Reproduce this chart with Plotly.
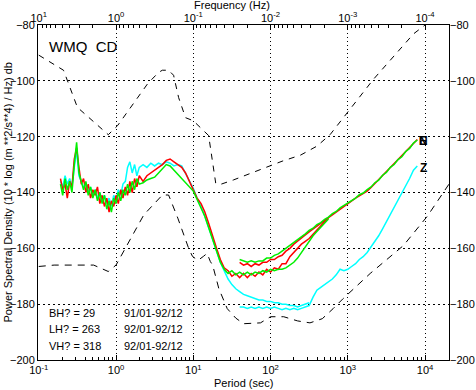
import plotly.graph_objects as go

# ---------------- data ----------------
# BH band periods (s)
period_bh = [0.191, 0.204, 0.219, 0.234, 0.251, 0.269, 0.288, 0.309, 0.331, 0.355,
             0.380, 0.407, 0.437, 0.468, 0.501, 0.537, 0.575, 0.617, 0.661, 0.708,
             0.759, 0.813, 0.871, 0.933, 1.00, 1.07, 1.15, 1.23, 1.32, 1.41,
             1.51, 1.62, 1.74, 1.86, 2.00,
             2.24, 2.51, 2.82, 3.16, 3.55, 3.98, 4.47, 5.01, 5.62, 6.31,
             7.08, 7.94, 8.91, 10.0, 11.2, 12.6, 14.1, 15.8, 17.8, 20.0,
             22.4, 25.1, 28.2, 31.6, 35.5, 39.8, 44.7, 50.1, 56.2, 63.1,
             70.8, 79.4, 89.1, 100, 112, 126, 141, 158, 178, 200,
             224, 251, 282, 316, 355, 398, 447, 501, 562]

red_bh = [-135, -139, -137, -142, -136, -138, -128, -124, -131, -137,
          -135, -140, -137, -142, -139, -141, -138, -144, -141, -145,
          -142, -147, -143, -145, -141, -144, -139, -142, -138, -141,
          -136, -140, -135, -138, -134,
          -136, -134, -133, -132, -131, -130, -128.5, -128, -129, -130,
          -131, -133, -136, -139.5, -142, -144, -147, -151, -156, -160,
          -164, -167, -168, -170, -169, -170.5, -169, -170.5, -169, -170,
          -168.5, -169.5, -167.5, -168.5, -167, -167.5, -165.5, -165.5, -163, -161.5,
          -160, -158.5, -157.5, -156.5, -155, -153.5, -152, -150.5, -149]

green_bh = [-137, -141, -135, -139, -136, -140, -130, -122, -133, -136,
            -139, -136, -141, -138, -142, -139, -143, -140, -144, -141,
            -146, -143, -147, -142, -144, -140, -143, -139, -141, -137,
            -140, -136, -139, -135, -137,
            -136.5, -135.5, -135, -134.5, -133, -131.5, -130, -130.5, -132, -133.5,
            -135, -136.5, -138, -139.5, -142.5, -145.5, -148.5, -152.5, -157, -161.5,
            -165, -167.5, -169, -168, -169.5, -168.5, -169.5, -168.5, -169.5, -168.5,
            -169, -168, -168.5, -167.5, -168, -167.5, -167.5, -167, -166, -165,
            -163.5, -161.5, -159.5, -157.5, -155.5, -154, -152.5, -151, -149.5]

cyan_bh = [-136, -138, -134, -137, -135, -138, -131, -125, -134, -136,
           -138, -137, -140, -138, -141, -139, -142, -140, -143, -141,
           -144, -142, -145, -141, -143, -139, -141, -137, -136, -131,
           -129, -133, -130, -134, -131,
           -130, -131, -129.5, -130.5, -129.5, -130, -129, -129.5, -130.5, -130,
           -130.5, -133, -135.5, -138.5, -142, -145, -148.5, -152.5, -157, -161.5,
           -165, -168, -171, -173, -174.5, -175.5, -176.5, -177, -177.5, -178,
           -178.5, -178.5, -179, -179, -179.5, -179.5, -180, -180, -180.5, -180.5,
           -181, -180.5, -180, -179.5]

# LH band periods (s)
period_lh = [39.8, 44.7, 50.1, 56.2, 63.1, 70.8, 79.4, 89.1, 100, 112,
             126, 141, 158, 178, 200, 224, 251, 282, 316, 355,
             398, 447, 501, 562, 631, 708, 794, 891, 1000, 1120,
             1260, 1410, 1580, 1780, 2000, 2240, 2510, 2820, 3160, 3550,
             3980, 4470, 5010, 5620, 6310, 7080, 7940]

red_lh = [-165, -166, -165.5, -166.5, -165.5, -166, -165, -165, -164, -164,
          -163, -162.5, -161, -160, -158.5, -157.5, -156.3, -155.2, -154.1, -153,
          -152, -151, -150, -149, -148, -147, -146, -145, -143.8, -143,
          -142, -141.2, -140.4, -139.5, -138.2, -136.8, -135.4, -134, -132.6, -131.2,
          -129.8, -128.4, -127, -125.5, -124, -122.5, -121]

green_lh = [-164, -164.5, -165, -164.5, -165, -164.5, -164.5, -163.5, -163.5, -162.5,
            -162, -161, -160, -159, -158, -157, -156, -154.8, -153.6, -152.8,
            -151.5, -150.8, -149.6, -148.8, -147.6, -146.8, -145.5, -144.6, -143.5, -142.6,
            -142, -140.8, -140.2, -139, -138, -136.5, -135.6, -133.8, -132.8, -131,
            -130, -128.2, -127.2, -125.3, -124.2, -122.3, -121.2]

cyan_lh = [-181, -181, -181.5, -181, -181.5, -181, -181.5, -181, -181.5, -181,
           -181.5, -182, -181.5, -182, -181.5, -182, -181.5, -181, -180.5, -177.5,
           -175, -174, -173, -172, -171, -169.5, -167.5, -168, -167.5, -166.5,
           -165.5, -164, -163, -161.5, -159.5, -157.5, -155.5, -153, -150.5, -148,
           -145.5, -143, -140.5, -138, -135, -132, -130.5]

# Station noise envelope (dashed)
period_high = [0.1, 0.209, 0.316, 0.447, 0.631, 0.794, 1.05, 2.57, 3.55, 3.98,
               4.79, 5.56, 6.46, 7.94, 10.0, 12.3, 15.8, 19.5, 21.4, 33.1,
               69.2, 141, 245, 398, 589, 977, 2140, 7080, 10000]
db_high = [-90.8, -96.2, -109.5, -113.2, -116.8, -119.3, -116, -101, -97, -96.2,
           -96.2, -98, -106, -113.2, -114.3, -116.8, -119.6, -136.6, -137.3, -135.5,
           -132, -128.8, -126.6, -123.4, -119.3, -111.4, -99.5, -83.2, -80]

period_low = [0.1, 0.158, 0.513, 0.794, 1.0, 1.55, 2.29, 3.98, 4.79, 6.31,
              8.71, 9.77, 11.5, 13.5, 15.1, 16.6, 17.8, 21.4, 27.5, 35.5,
              44.7, 74.1, 100, 148, 224, 324, 468, 646, 871, 1950,
              5250, 10700, 20400]
db_low = [-166.5, -166, -166, -168.3, -166, -156.4, -148, -140.9, -140.9, -149.2,
          -160, -162.9, -164.3, -162.9, -161.8, -164.7, -166, -174.4, -181.6, -185,
          -187, -186.7, -184.5, -184.5, -186, -186.7, -185.2, -181.6, -178, -169,
          -159, -148.5, -137]

x_tick_vals = [0.1, 1, 10, 100, 1000, 10000]
period_tick_text = ["10<sup>-1</sup>", "10<sup>0</sup>", "10<sup>1</sup>",
                    "10<sup>2</sup>", "10<sup>3</sup>", "10<sup>4</sup>"]
freq_tick_text = ["10<sup>1</sup>", "10<sup>0</sup>", "10<sup>-1</sup>",
                  "10<sup>-2</sup>", "10<sup>-3</sup>", "10<sup>-4</sup>"]
y_tick_vals = [-200, -180, -160, -140, -120, -100, -80]

station_label = "WMQ  CD"
band_labels = ["BH? = 29", "LH? = 263", "VH? = 318"]
date_labels = ["91/01-92/12", "92/01-92/12", "92/01-92/12"]

# ---------------- figure ----------------
FONT = "Liberation Sans, Arial, Helvetica, sans-serif"
RED, GREEN, CYAN = "#ff0000", "#00f000", "#00ffff"
xr = [-1.01, 4.31]
yr = [-200, -80]

fig = go.Figure()

fig.add_trace(go.Scatter(x=period_high, y=db_high, mode="lines",
                         line=dict(color="black", width=1, dash="6px,6px")))
fig.add_trace(go.Scatter(x=period_low, y=db_low, mode="lines",
                         line=dict(color="black", width=1, dash="7px,6px")))

fig.add_trace(go.Scatter(x=period_bh[:len(cyan_bh)], y=cyan_bh, mode="lines",
                         line=dict(color=CYAN, width=1.5)))
fig.add_trace(go.Scatter(x=period_lh, y=cyan_lh, mode="lines",
                         line=dict(color=CYAN, width=1.5)))
fig.add_trace(go.Scatter(x=period_bh, y=red_bh, mode="lines",
                         line=dict(color=RED, width=1.5)))
fig.add_trace(go.Scatter(x=period_lh, y=red_lh, mode="lines",
                         line=dict(color=RED, width=1.5)))
fig.add_trace(go.Scatter(x=period_bh, y=green_bh, mode="lines",
                         line=dict(color=GREEN, width=1.5)))
fig.add_trace(go.Scatter(x=period_lh, y=green_lh, mode="lines",
                         line=dict(color=GREEN, width=1.5)))

# invisible trace to activate the secondary (top / right) axes
fig.add_trace(go.Scatter(x=[1], y=[-100], xaxis="x2", yaxis="y2", mode="markers",
                         marker=dict(opacity=0), hoverinfo="skip"))

minor_period = [k * 10 ** n for n in range(-1, 5) for k in range(2, 10) if k * 10 ** n < 20400]
minor_freq = [1.0 / (k * 10.0 ** n) for n in range(-4, 2) for k in range(2, 10)
              if 0.1 < 1.0 / (k * 10.0 ** n) < 20400]

axis_font = dict(family=FONT, size=11, color="black")

fig.update_layout(
    template="none",
    width=476, height=390,
    margin=dict(l=38, r=27, t=25, b=30, autoexpand=False),
    paper_bgcolor="white", plot_bgcolor="white",
    showlegend=False,
    font=axis_font,
    xaxis=dict(type="log", range=xr, tickmode="array", tickvals=x_tick_vals,
               ticktext=period_tick_text, ticks="inside", ticklen=5, tickcolor="black",
               showline=True, linecolor="black", linewidth=1, mirror=True,
               showgrid=True, gridcolor="black", gridwidth=1, griddash="1px,3px",
               zeroline=False, tickfont=axis_font, automargin=False,
               minor=dict(tickmode="array", tickvals=minor_period, ticks="inside",
                          ticklen=3, tickcolor="black", showgrid=False)),
    xaxis2=dict(type="log", range=xr, overlaying="x", side="top", anchor="y",
                tickmode="array", tickvals=x_tick_vals, ticktext=freq_tick_text,
                ticks="inside", ticklen=5, tickcolor="black", showline=False,
                showgrid=False, zeroline=False, tickfont=axis_font, automargin=False,
                minor=dict(tickmode="array", tickvals=minor_freq, ticks="inside",
                           ticklen=3, tickcolor="black", showgrid=False)),
    yaxis=dict(range=yr, tickmode="array", tickvals=y_tick_vals, ticks="",
               showline=True, linecolor="black", linewidth=1, mirror=True,
               showgrid=True, gridcolor="black", gridwidth=1, griddash="2px,3px",
               zeroline=False, tickfont=axis_font, automargin=False),
    yaxis2=dict(range=yr, overlaying="y", side="right", anchor="x",
                tickmode="array", tickvals=y_tick_vals, ticks="",
                showline=False, showgrid=False, zeroline=False, tickfont=axis_font,
                automargin=False),
)


def note(text, x, y, size=11, xanchor="center", angle=0):
    return dict(text=text, x=x, y=y, xref="paper", yref="paper", xanchor=xanchor,
                yanchor="middle", textangle=angle, showarrow=False,
                font=dict(family=FONT, size=size, color="black"))


ann = [note("Frequency (Hz)", 0.472, 1.06),
       note("Period (sec)", 0.5, -0.069),
       note("Power Spectral Density (10 * log (m **2/s**4) / Hz) db", -0.073, 0.5, angle=-90),
       note(station_label, 0.022, 0.937, size=15, xanchor="left")]
for lab, dt, yy in zip(band_labels, date_labels, [0.140, 0.0925, 0.042]):
    ann.append(note(lab, 0.022, yy, xanchor="left"))
    ann.append(note(dt, 0.204, yy, xanchor="left"))
for t in ["E", "N"]:
    ann.append(note("<b>" + t + "</b>", 0.937, 0.654, size=12))
ann.append(note("<b>Z</b>", 0.937, 0.573, size=12))
fig.update_layout(annotations=ann)

fig.write_html("out.html", config={"displayModeBar": False},
               post_script="document.body.style.margin='0';")
